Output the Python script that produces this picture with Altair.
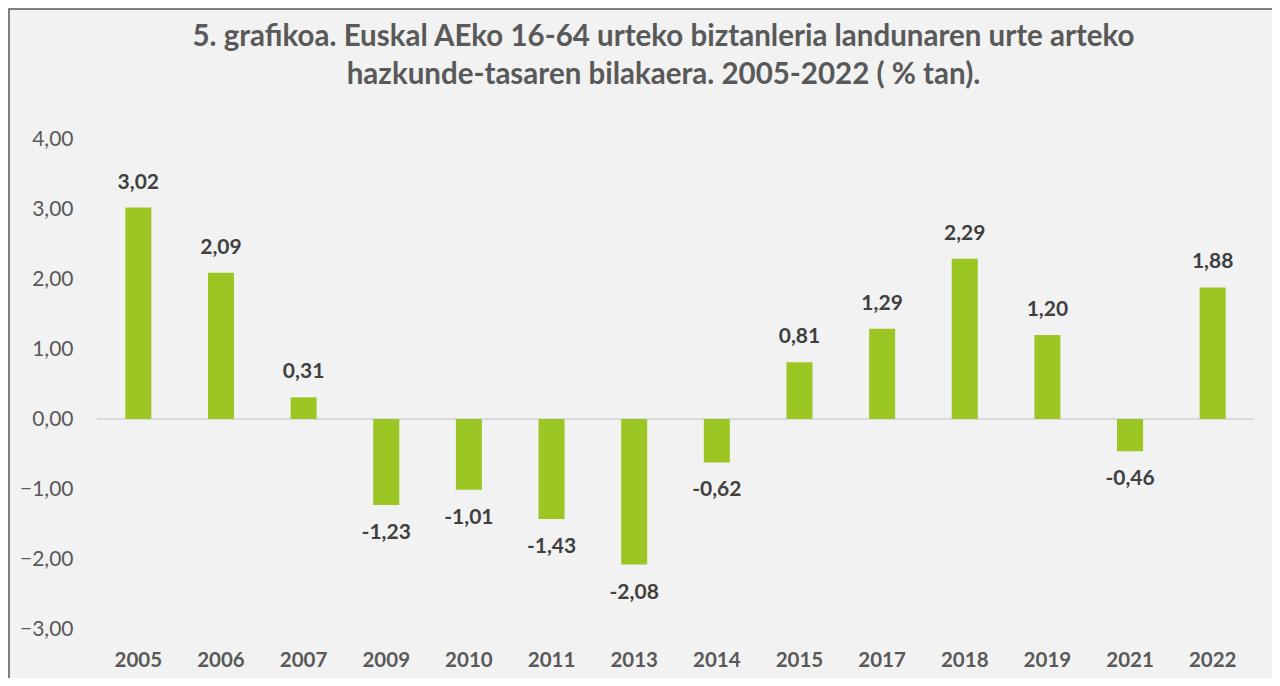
import altair as alt
import pandas as pd

years = ["2005", "2006", "2007", "2009", "2010", "2011", "2013", "2014",
         "2015", "2017", "2018", "2019", "2021", "2022"]
values = [3.02, 2.09, 0.31, -1.23, -1.01, -1.43, -2.08, -0.62,
          0.81, 1.29, 2.29, 1.20, -0.46, 1.88]
y_ticks = [-3, -2, -1, 0, 1, 2, 3, 4]
title_lines = ["5. grafikoa. Euskal AEko 16-64 urteko biztanleria landunaren urte arteko",
               "hazkunde-tasaren bilakaera. 2005-2022 ( % tan)."]

df = pd.DataFrame({"year": years, "value": values})
df["label"] = [f"{v:.2f}".replace(".", ",") for v in values]

W, H = 1157, 490
FONT = "Lato"
GREEN = "#9bc623"

x = alt.X("year:N", sort=years,
          scale=alt.Scale(paddingInner=0.685, paddingOuter=0.3425),
          axis=alt.Axis(title=None, ticks=False, domain=False, labelAngle=0,
                        labelFont=FONT, labelFontWeight="bold", labelFontSize=20.5,
                        labelColor="#595959", labelPadding=21))
y = alt.Y("value:Q", scale=alt.Scale(domain=[-3, 4], nice=False, zero=True),
          axis=alt.Axis(title=None, values=y_ticks, grid=False, ticks=False, domain=False,
                        labelExpr="replace(format(datum.value, '.2f'), '.', ',')",
                        labelFont=FONT, labelFontSize=21, labelColor="#595959",
                        labelPadding=24))

frame = alt.Chart(pd.DataFrame({"a": [0]})).mark_rect(
    fillOpacity=0, stroke="#595959", strokeWidth=1.5
).encode(x=alt.value(-88), x2=alt.value(W + 300), y=alt.value(-130), y2=alt.value(H + 300))

zero = alt.Chart(pd.DataFrame({"value": [0]})).mark_rule(
    color="#d9d9d9", strokeWidth=2
).encode(y=y)

bars = alt.Chart(df).mark_bar(color=GREEN).encode(x=x, y=y)

lpos = alt.Chart(df).transform_filter("datum.value >= 0").mark_text(
    dy=-25, baseline="middle", font=FONT, fontWeight="bold", fontSize=21, color="#404040"
).encode(x=x, y=y, text="label:N")

lneg = alt.Chart(df).transform_filter("datum.value < 0").mark_text(
    dy=28, baseline="middle", font=FONT, fontWeight="bold", fontSize=21, color="#404040"
).encode(x=x, y=y, text="label:N")

chart = alt.layer(frame, zero, bars, lpos, lneg).properties(
    width=W, height=H,
    title=alt.TitleParams(text=title_lines, font=FONT, fontSize=29.5, fontWeight="bold",
                          color="#595959", lineHeight=38, anchor="middle", frame="group",
                          offset=-82, dx=-12),
    padding={"left": 89, "top": 131, "right": 18, "bottom": 49},
    autosize="none",
).configure(background="#f2f2f2").configure_view(stroke=None)

chart.save("out.html", embed_options={"renderer": "svg", "actions": False})
